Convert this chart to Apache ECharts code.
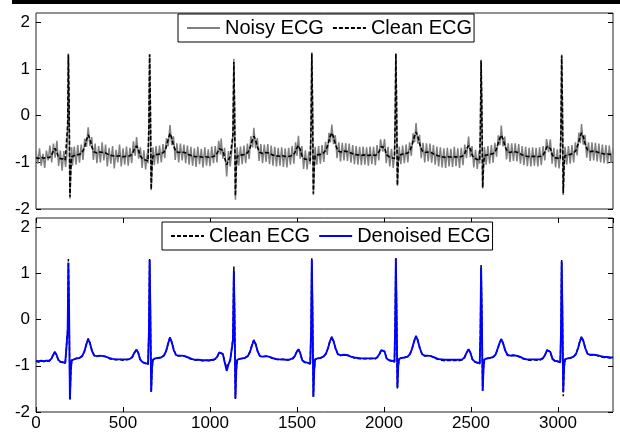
<!DOCTYPE html>
<html><head><meta charset="utf-8">
<script src="https://cdn.jsdelivr.net/npm/echarts@6/dist/echarts.min.js"></script>
<style>html,body{margin:0;padding:0;background:#fff}#c{width:620px;height:432px}</style>
</head><body><div id="c"></div>
<script>
const xTicks = [0, 500, 1000, 1500, 2000, 2500, 3000];
const yTicks = [-2, -1, 0, 1, 2];
const legendTop = ['Noisy ECG', 'Clean ECG'];
const legendBottom = ['Clean ECG', 'Denoised ECG'];

const cleanECG = [[0,-0.90],[15,-0.92],[30,-0.89],[45,-0.91],[60,-0.89],[75,-0.90],[88,-0.86],[98,-0.77],[108,-0.70],[118,-0.76],[128,-0.88],[140,-0.92],[155,-0.93],[168,-0.95],[177,-0.98],[182,-0.2],[186,1.31],[190,0.3],[195,-1.74],[200,-1.15],[205,-0.88],[215,-0.85],[232,-0.84],[250,-0.83],[265,-0.79],[278,-0.69],[290,-0.52],[300,-0.41],[310,-0.50],[322,-0.68],[335,-0.78],[350,-0.80],[368,-0.78],[385,-0.79],[400,-0.80],[420,-0.84],[440,-0.86],[460,-0.87],[480,-0.86],[500,-0.88],[520,-0.87],[540,-0.86],[553,-0.82],[565,-0.72],[578,-0.65],[588,-0.72],[598,-0.86],[612,-0.92],[628,-0.95],[644,-0.97],[649,-0.2],[653,1.31],[657,0.3],[662,-1.58],[667,-1.05],[672,-0.87],[685,-0.84],[700,-0.83],[718,-0.82],[735,-0.78],[748,-0.68],[760,-0.50],[770,-0.38],[780,-0.48],[792,-0.66],[805,-0.77],[820,-0.79],[838,-0.78],[855,-0.79],[875,-0.83],[895,-0.86],[915,-0.88],[935,-0.87],[955,-0.89],[975,-0.88],[995,-0.89],[1015,-0.88],[1030,-0.86],[1042,-0.80],[1053,-0.71],[1064,-0.67],[1074,-0.74],[1084,-0.90],[1096,-1.05],[1106,-0.95],[1116,-0.88],[1126,-0.90],[1132,-0.4],[1137,1.15],[1141,0.2],[1146,-1.72],[1151,-1.1],[1156,-0.87],[1170,-0.85],[1185,-0.84],[1200,-0.83],[1217,-0.79],[1230,-0.69],[1242,-0.54],[1252,-0.44],[1262,-0.52],[1274,-0.69],[1287,-0.79],[1302,-0.81],[1320,-0.79],[1338,-0.80],[1358,-0.84],[1378,-0.86],[1398,-0.87],[1418,-0.86],[1438,-0.88],[1458,-0.87],[1475,-0.85],[1487,-0.80],[1498,-0.70],[1508,-0.64],[1518,-0.72],[1530,-0.88],[1545,-0.93],[1560,-0.94],[1576,-0.96],[1581,-0.2],[1585,1.33],[1589,0.3],[1594,-1.67],[1599,-1.1],[1604,-0.86],[1618,-0.84],[1635,-0.83],[1652,-0.80],[1666,-0.74],[1678,-0.62],[1690,-0.45],[1700,-0.37],[1710,-0.46],[1722,-0.63],[1735,-0.75],[1750,-0.78],[1770,-0.76],[1790,-0.77],[1810,-0.80],[1830,-0.83],[1850,-0.84],[1870,-0.85],[1890,-0.84],[1910,-0.85],[1930,-0.84],[1950,-0.85],[1962,-0.82],[1973,-0.76],[1984,-0.66],[1993,-0.62],[2003,-0.69],[2015,-0.84],[2030,-0.88],[2045,-0.90],[2060,-0.92],[2064,-0.2],[2068,1.33],[2072,0.3],[2077,-1.49],[2082,-1.0],[2087,-0.85],[2100,-0.83],[2118,-0.82],[2136,-0.80],[2150,-0.74],[2162,-0.62],[2174,-0.45],[2184,-0.35],[2194,-0.44],[2206,-0.62],[2219,-0.75],[2234,-0.79],[2252,-0.78],[2270,-0.79],[2290,-0.83],[2310,-0.86],[2330,-0.88],[2350,-0.89],[2370,-0.88],[2390,-0.89],[2410,-0.88],[2430,-0.89],[2450,-0.87],[2462,-0.83],[2474,-0.72],[2486,-0.64],[2496,-0.71],[2508,-0.86],[2522,-0.92],[2538,-0.94],[2550,-0.96],[2554,-0.3],[2558,1.18],[2562,0.2],[2567,-1.54],[2572,-1.05],[2577,-0.86],[2592,-0.84],[2610,-0.83],[2628,-0.81],[2642,-0.75],[2654,-0.62],[2665,-0.49],[2674,-0.42],[2684,-0.50],[2696,-0.66],[2709,-0.77],[2724,-0.79],[2742,-0.77],[2760,-0.78],[2780,-0.81],[2800,-0.85],[2820,-0.87],[2840,-0.88],[2860,-0.87],[2880,-0.88],[2900,-0.87],[2915,-0.84],[2926,-0.76],[2937,-0.66],[2946,-0.63],[2956,-0.70],[2968,-0.85],[2982,-0.90],[2998,-0.91],[3013,-0.93],[3017,-0.3],[3021,1.29],[3025,0.3],[3030,-1.66],[3035,-1.05],[3040,-0.86],[3055,-0.84],[3072,-0.83],[3090,-0.80],[3104,-0.74],[3116,-0.60],[3127,-0.45],[3135,-0.37],[3145,-0.45],[3157,-0.62],[3170,-0.74],[3185,-0.77],[3205,-0.76],[3225,-0.78],[3245,-0.80],[3265,-0.82],[3285,-0.82],[3300,-0.83],[3316,-0.83]];

const denoisedECG = [[0,-0.89],[15,-0.90],[30,-0.89],[45,-0.90],[60,-0.89],[75,-0.89],[88,-0.85],[98,-0.77],[108,-0.70],[118,-0.76],[128,-0.87],[140,-0.91],[155,-0.92],[168,-0.94],[177,-0.97],[182,-0.25],[186,1.23],[190,0.25],[195,-1.73],[200,-1.12],[205,-0.88],[215,-0.85],[232,-0.84],[250,-0.83],[265,-0.79],[278,-0.69],[290,-0.53],[300,-0.42],[310,-0.51],[322,-0.68],[335,-0.78],[350,-0.79],[368,-0.78],[385,-0.79],[400,-0.80],[420,-0.83],[440,-0.85],[460,-0.86],[480,-0.86],[500,-0.86],[520,-0.86],[540,-0.85],[553,-0.81],[565,-0.72],[578,-0.65],[588,-0.72],[598,-0.86],[612,-0.92],[628,-0.94],[644,-0.96],[649,-0.25],[653,1.29],[657,0.25],[662,-1.56],[667,-1.03],[672,-0.87],[685,-0.84],[700,-0.83],[718,-0.82],[735,-0.78],[748,-0.68],[760,-0.51],[770,-0.39],[780,-0.49],[792,-0.66],[805,-0.77],[820,-0.78],[838,-0.78],[855,-0.79],[875,-0.82],[895,-0.85],[915,-0.87],[935,-0.87],[955,-0.88],[975,-0.88],[995,-0.88],[1015,-0.87],[1030,-0.85],[1042,-0.80],[1053,-0.71],[1064,-0.67],[1074,-0.75],[1084,-0.92],[1096,-1.11],[1106,-0.97],[1116,-0.88],[1126,-0.90],[1132,-0.45],[1137,1.06],[1141,0.15],[1146,-1.70],[1151,-1.08],[1156,-0.87],[1170,-0.85],[1185,-0.84],[1200,-0.83],[1217,-0.79],[1230,-0.70],[1242,-0.55],[1252,-0.45],[1262,-0.53],[1274,-0.69],[1287,-0.79],[1302,-0.80],[1320,-0.79],[1338,-0.80],[1358,-0.83],[1378,-0.85],[1398,-0.86],[1418,-0.86],[1438,-0.87],[1458,-0.86],[1475,-0.84],[1487,-0.79],[1498,-0.70],[1508,-0.64],[1518,-0.72],[1530,-0.88],[1545,-0.92],[1560,-0.93],[1576,-0.95],[1581,-0.25],[1585,1.29],[1589,0.25],[1594,-1.67],[1599,-1.08],[1604,-0.86],[1618,-0.84],[1635,-0.83],[1652,-0.80],[1666,-0.74],[1678,-0.62],[1690,-0.46],[1700,-0.38],[1710,-0.47],[1722,-0.63],[1735,-0.75],[1750,-0.77],[1770,-0.76],[1790,-0.77],[1810,-0.80],[1830,-0.82],[1850,-0.83],[1870,-0.84],[1890,-0.84],[1910,-0.84],[1930,-0.84],[1950,-0.84],[1962,-0.81],[1973,-0.75],[1984,-0.66],[1993,-0.62],[2003,-0.69],[2015,-0.84],[2030,-0.88],[2045,-0.89],[2060,-0.91],[2064,-0.2],[2068,1.33],[2072,0.3],[2077,-1.47],[2082,-0.98],[2087,-0.85],[2100,-0.83],[2118,-0.82],[2136,-0.80],[2150,-0.74],[2162,-0.62],[2174,-0.46],[2184,-0.36],[2194,-0.45],[2206,-0.62],[2219,-0.75],[2234,-0.78],[2252,-0.78],[2270,-0.79],[2290,-0.82],[2310,-0.85],[2330,-0.86],[2350,-0.87],[2370,-0.87],[2390,-0.87],[2410,-0.87],[2430,-0.87],[2450,-0.86],[2462,-0.82],[2474,-0.72],[2486,-0.64],[2496,-0.71],[2508,-0.86],[2522,-0.91],[2538,-0.93],[2550,-0.95],[2554,-0.35],[2558,1.13],[2562,0.15],[2567,-1.54],[2572,-1.03],[2577,-0.86],[2592,-0.84],[2610,-0.83],[2628,-0.81],[2642,-0.75],[2654,-0.62],[2665,-0.50],[2674,-0.42],[2684,-0.51],[2696,-0.66],[2709,-0.76],[2724,-0.78],[2742,-0.77],[2760,-0.78],[2780,-0.80],[2800,-0.84],[2820,-0.86],[2840,-0.86],[2860,-0.86],[2880,-0.86],[2900,-0.86],[2915,-0.83],[2926,-0.76],[2937,-0.66],[2946,-0.63],[2956,-0.70],[2968,-0.85],[2982,-0.89],[2998,-0.90],[3013,-0.92],[3017,-0.3],[3021,1.25],[3025,0.25],[3030,-1.56],[3035,-1.02],[3040,-0.86],[3055,-0.84],[3072,-0.83],[3090,-0.80],[3104,-0.74],[3116,-0.61],[3127,-0.46],[3135,-0.38],[3145,-0.46],[3157,-0.62],[3170,-0.74],[3185,-0.76],[3205,-0.76],[3225,-0.77],[3245,-0.79],[3265,-0.81],[3285,-0.81],[3300,-0.82],[3316,-0.82]];

const noisyECG = [[0,-0.75],[10,-1.03],[20,-0.70],[30,-1.07],[40,-0.82],[50,-1.12],[60,-0.75],[70,-0.96],[80,-0.64],[90,-1.00],[100,-0.60],[110,-0.90],[120,-0.54],[130,-1.08],[140,-0.75],[150,-1.18],[160,-0.76],[170,-1.10],[177,-0.85],[182,-0.25],[186,1.33],[190,0.35],[195,-1.78],[200,-1.2],[205,-0.68],[210,-1.07],[220,-0.66],[230,-1.05],[240,-0.63],[250,-1.01],[260,-0.62],[270,-0.95],[280,-0.49],[290,-0.67],[300,-0.25],[310,-0.65],[320,-0.46],[330,-0.95],[340,-0.60],[350,-1.02],[360,-0.65],[370,-1.00],[380,-0.57],[390,-0.96],[400,-0.62],[410,-1.09],[420,-0.69],[430,-1.03],[440,-0.65],[450,-1.13],[460,-0.73],[470,-1.00],[480,-0.62],[490,-1.09],[500,-0.70],[510,-1.05],[520,-0.66],[530,-1.07],[540,-0.69],[550,-1.02],[560,-0.55],[570,-0.86],[578,-0.46],[590,-0.92],[600,-0.68],[610,-1.12],[620,-0.74],[630,-1.15],[640,-0.80],[644,-1.02],[649,-0.15],[653,1.32],[657,0.25],[662,-1.60],[667,-1.1],[672,-0.68],[680,-1.06],[690,-0.65],[700,-1.03],[710,-0.64],[720,-1.00],[730,-0.61],[740,-0.91],[750,-0.48],[760,-0.65],[770,-0.20],[780,-0.63],[790,-0.44],[800,-0.95],[810,-0.59],[820,-1.00],[830,-0.60],[840,-0.96],[850,-0.62],[860,-1.02],[870,-0.64],[880,-1.05],[890,-0.67],[900,-1.07],[910,-0.70],[920,-1.10],[930,-0.67],[940,-1.04],[950,-0.71],[960,-1.11],[970,-0.68],[980,-1.07],[990,-0.72],[1000,-1.08],[1010,-0.66],[1020,-1.02],[1030,-0.65],[1040,-1.00],[1050,-0.54],[1060,-0.83],[1064,-0.49],[1074,-0.92],[1084,-0.69],[1096,-1.30],[1106,-0.76],[1116,-1.09],[1126,-0.72],[1132,-0.45],[1137,1.22],[1141,0.25],[1146,-1.80],[1151,-1.15],[1156,-0.68],[1165,-1.07],[1175,-0.66],[1185,-1.04],[1195,-0.64],[1205,-1.02],[1215,-0.60],[1225,-0.93],[1235,-0.44],[1245,-0.68],[1252,-0.26],[1262,-0.70],[1272,-0.48],[1282,-0.97],[1292,-0.61],[1302,-1.02],[1312,-0.62],[1322,-0.99],[1332,-0.61],[1342,-1.04],[1352,-0.64],[1362,-1.07],[1372,-0.67],[1382,-1.09],[1392,-0.69],[1402,-1.07],[1412,-0.68],[1422,-1.10],[1432,-0.70],[1442,-1.11],[1452,-0.69],[1462,-1.05],[1472,-0.65],[1482,-1.03],[1492,-0.57],[1500,-0.86],[1508,-0.43],[1518,-0.92],[1528,-0.65],[1538,-1.14],[1548,-0.74],[1558,-1.15],[1568,-0.77],[1576,-1.04],[1581,-0.12],[1585,1.36],[1589,0.3],[1594,-1.70],[1599,-1.15],[1604,-0.67],[1614,-1.05],[1624,-0.65],[1634,-1.03],[1644,-0.63],[1654,-0.99],[1664,-0.56],[1674,-0.84],[1684,-0.37],[1692,-0.57],[1700,-0.19],[1710,-0.61],[1720,-0.42],[1730,-0.91],[1740,-0.57],[1750,-0.98],[1760,-0.58],[1770,-0.96],[1780,-0.59],[1790,-0.97],[1800,-0.60],[1810,-1.01],[1820,-0.63],[1830,-1.04],[1840,-0.65],[1850,-1.05],[1860,-0.67],[1870,-1.06],[1880,-0.66],[1890,-1.05],[1900,-0.68],[1910,-1.07],[1920,-0.66],[1930,-1.04],[1940,-0.67],[1950,-1.06],[1960,-0.63],[1970,-0.96],[1980,-0.51],[1993,-0.77],[2003,-0.50],[2013,-1.02],[2023,-0.67],[2033,-1.09],[2043,-0.71],[2053,-1.12],[2060,-0.86],[2064,-0.15],[2068,1.33],[2072,0.25],[2077,-1.50],[2082,-1.05],[2087,-0.66],[2097,-1.04],[2107,-0.64],[2117,-1.02],[2127,-0.62],[2137,-1.00],[2147,-0.57],[2157,-0.86],[2167,-0.38],[2176,-0.57],[2184,-0.16],[2194,-0.60],[2204,-0.41],[2214,-0.91],[2224,-0.58],[2234,-1.00],[2244,-0.59],[2254,-0.98],[2264,-0.60],[2274,-1.01],[2284,-0.63],[2294,-1.05],[2304,-0.66],[2314,-1.09],[2324,-0.68],[2334,-1.11],[2344,-0.70],[2354,-1.12],[2364,-0.69],[2374,-1.09],[2384,-0.71],[2394,-1.10],[2404,-0.67],[2414,-1.08],[2424,-0.70],[2434,-1.12],[2444,-0.69],[2454,-1.06],[2464,-0.62],[2474,-0.91],[2486,-0.45],[2496,-0.89],[2506,-0.65],[2516,-1.11],[2526,-0.73],[2536,-1.14],[2546,-0.76],[2550,-1.03],[2554,-0.25],[2558,1.20],[2562,0.2],[2567,-1.56],[2572,-1.1],[2577,-0.67],[2587,-1.05],[2597,-0.65],[2607,-1.03],[2617,-0.63],[2627,-1.01],[2637,-0.58],[2647,-0.88],[2657,-0.42],[2666,-0.63],[2674,-0.21],[2684,-0.66],[2694,-0.45],[2704,-0.94],[2714,-0.59],[2724,-0.99],[2734,-0.59],[2744,-0.97],[2754,-0.59],[2764,-0.98],[2774,-0.61],[2784,-1.03],[2794,-0.65],[2804,-1.06],[2814,-0.67],[2824,-1.08],[2834,-0.69],[2844,-1.09],[2854,-0.68],[2864,-1.07],[2874,-0.69],[2884,-1.09],[2894,-0.68],[2904,-1.06],[2914,-0.65],[2924,-0.96],[2934,-0.50],[2946,-0.78],[2956,-0.51],[2966,-1.03],[2976,-0.69],[2986,-1.11],[2996,-0.72],[3006,-1.13],[3013,-0.86],[3017,-0.25],[3021,1.31],[3025,0.3],[3030,-1.70],[3035,-1.1],[3040,-0.67],[3050,-1.05],[3060,-0.65],[3070,-1.03],[3080,-0.63],[3090,-1.00],[3100,-0.57],[3110,-0.85],[3120,-0.36],[3128,-0.59],[3135,-0.18],[3145,-0.62],[3155,-0.41],[3165,-0.90],[3175,-0.57],[3185,-0.97],[3195,-0.57],[3205,-0.96],[3215,-0.58],[3225,-0.98],[3235,-0.60],[3245,-1.00],[3255,-0.62],[3265,-1.02],[3275,-0.63],[3285,-1.03],[3295,-0.64],[3305,-1.01],[3316,-0.69]];

const X_MIN = 0, X_MAX = 3316, Y_MIN = -2, Y_MAX = 2.2;
const FONT = 'Liberation Sans, Arial, sans-serif';

const chart = echarts.init(document.getElementById('c'), null, {renderer: 'canvas'});
const tickFmt = v => (yTicks.indexOf(v) >= 0 ? String(v) : '');
const xFmt = v => (xTicks.indexOf(v) >= 0 ? String(v) : '');
function yAx(grid, pos, labels) {
  return {type: 'value', gridIndex: grid, position: pos, min: Y_MIN, max: Y_MAX, interval: 1,
    axisLine: {show: false, onZero: false}, splitLine: {show: false},
    axisTick: {show: true, inside: true, length: 5, lineStyle: {color: '#000'}},
    axisLabel: {show: labels, formatter: tickFmt, color: '#000', fontSize: 17, fontFamily: FONT, margin: 6, showMaxLabel: false}};
}
function xAx(grid, pos, labels, ticks) {
  return {type: 'value', gridIndex: grid, position: pos, min: X_MIN, max: X_MAX, interval: 500,
    axisLine: {show: false, onZero: false}, splitLine: {show: false},
    axisTick: {show: ticks, inside: true, length: 5, lineStyle: {color: '#000'}},
    axisLabel: {show: labels, formatter: xFmt, color: '#000', fontSize: 17, fontFamily: FONT, margin: 3, showMaxLabel: false}};
}
const legendBase = {orient: 'horizontal', itemWidth: 33, itemHeight: 12, itemGap: 8,
  borderColor: '#000', borderWidth: 1, backgroundColor: '#fff', padding: [4, 2, 4, 8], borderRadius: 0,
  itemStyle: {opacity: 0, color: 'rgba(0,0,0,0)', borderColor: 'rgba(0,0,0,0)', borderWidth: 0},
  textStyle: {fontSize: 20, color: '#000', fontFamily: FONT}, selectedMode: false};

chart.setOption({
  animation: false,
  backgroundColor: '#fff',
  graphic: [{type: 'rect', shape: {x: 12, y: 0, width: 608, height: 4}, style: {fill: '#000'}}],
  grid: [
    {left: 36, top: 13, right: 7, height: 196, show: true, borderColor: '#222', borderWidth: 1, backgroundColor: 'transparent'},
    {left: 36, top: 218, right: 7, height: 195, show: true, borderColor: '#222', borderWidth: 1, backgroundColor: 'transparent'}
  ],
  xAxis: [xAx(0, 'bottom', false, false), xAx(1, 'bottom', true, true), xAx(1, 'top', false, true)],
  yAxis: [yAx(0, 'left', true), yAx(0, 'right', false), yAx(1, 'left', true), yAx(1, 'right', false)],
  legend: [
    Object.assign({}, legendBase, {left: 178, top: 14, data: legendTop}),
    Object.assign({}, legendBase, {left: 162, top: 222, data: legendBottom})
  ],
  series: [
    {name: legendTop[0], type: 'line', xAxisIndex: 0, yAxisIndex: 0, data: noisyECG, symbol: 'none',
      lineStyle: {color: '#808080', width: 1.5}, itemStyle: {color: '#808080'}},
    {name: legendTop[1], type: 'line', xAxisIndex: 0, yAxisIndex: 0, data: cleanECG, symbol: 'none',
      lineStyle: {color: '#000', width: 1.6, type: [4, 2]}, itemStyle: {color: '#000'}},
    {name: legendBottom[0], type: 'line', xAxisIndex: 1, yAxisIndex: 2, data: cleanECG, symbol: 'none',
      lineStyle: {color: '#000', width: 1.5, type: [4, 2]}, itemStyle: {color: '#000'}},
    {name: legendBottom[1], type: 'line', xAxisIndex: 1, yAxisIndex: 2, data: denoisedECG, symbol: 'none',
      lineStyle: {color: '#0000ff', width: 1.9}, itemStyle: {color: '#0000ff'}}
  ]
});
</script></body></html>
